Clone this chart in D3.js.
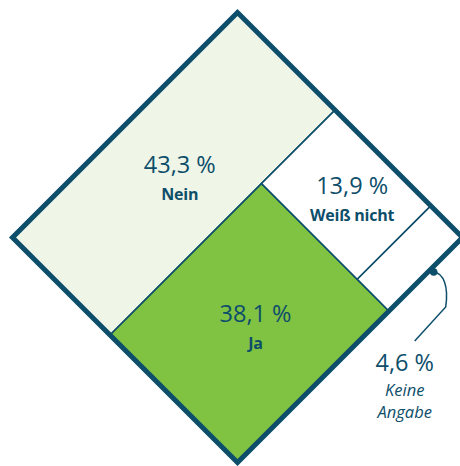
<!DOCTYPE html>
<html>
<head>
<meta charset="utf-8">
<script src="https://cdn.jsdelivr.net/npm/d3@7"></script>
<style>
  body { margin: 0; background: #fff; }
  svg { display: block; }
  text { font-family: 'Open Sans', sans-serif; fill: #0d4e6b; }
  .value { font-size: 23.5px; }
  .label { font-size: 16px; font-weight: 700; letter-spacing: -0.2px; }
  .note { font-size: 16.5px; font-style: italic; }
</style>
</head>
<body>
<div id="chart"></div>
<script>
/* global d3 */
const width = 460
const height = 466

const labels = ['Nein', 'Ja', 'Weiß nicht', 'Keine Angabe']
const values = [43.3, 38.1, 13.9, 4.6]
const fills = ['#eff5e7', '#80c242', '#ffffff', '#ffffff']

const ink = '#0d4e6b'
const cx = 237.5
const cy = 237.5
const halfDiag = 225
const side = halfDiag * Math.SQRT2
const border = 5

const de = d3.formatLocale({ decimal: ',', thousands: '.', grouping: [3], currency: ['', ' €'] })
const fmt = (v) => de.format('.1f')(v) + ' %'

// nest: first item vs. the rest, the rest again split the same way
function nest(i) {
  const leaf = { name: labels[i], value: values[i], fill: fills[i] }
  if (i === labels.length - 1) return leaf
  return { children: [leaf, nest(i + 1)] }
}

const root = d3.hierarchy(nest(0))
  .sum((d) => d.value || 0)

// alternate direction: even depth splits along y, odd depth along x
const tile = (node, x0, y0, x1, y1) =>
  (node.depth % 2 === 0 ? d3.treemapSlice : d3.treemapDice)(node, x0, y0, x1, y1)

d3.treemap()
  .size([side, side])
  .tile(tile)
  .round(false)(root)

const leaves = root.leaves()

// treemap coords -> screen (square turned by 45deg, left corner at (cx - halfDiag, cy))
const ox = cx - halfDiag
const oy = cy
function toScreen(u, v) {
  return [ox + (u + v) / Math.SQRT2, oy + (v - u) / Math.SQRT2]
}

const svg = d3.select('#chart')
  .append('svg')
  .attr('width', width)
  .attr('height', height)

const g = svg.append('g')
  .attr('transform', `translate(${ox}, ${oy}) rotate(-45)`)

g.selectAll('rect.cell')
  .data(leaves)
  .enter()
  .append('rect')
  .attr('class', 'cell')
  .attr('x', (d) => d.x0)
  .attr('y', (d) => d.y0)
  .attr('width', (d) => d.x1 - d.x0)
  .attr('height', (d) => d.y1 - d.y0)
  .attr('fill', (d) => d.data.fill)
  .attr('stroke', ink)
  .attr('stroke-width', 1.6)

g.append('rect')
  .attr('x', 0)
  .attr('y', 0)
  .attr('width', side)
  .attr('height', side)
  .attr('fill', 'none')
  .attr('stroke', ink)
  .attr('stroke-width', border)
  .attr('stroke-linejoin', 'miter')

// labels inside the big cells
const inside = leaves.slice(0, 3)
const lab = svg.append('g')
  .selectAll('g')
  .data(inside)
  .enter()
  .append('g')
  .attr('transform', (d) => {
    const p = toScreen((d.x0 + d.x1) / 2, (d.y0 + d.y1) / 2)
    return `translate(${p[0] + 6}, ${p[1]})`
  })

lab.append('text')
  .attr('class', 'value')
  .attr('text-anchor', 'middle')
  .attr('y', -1)
  .text((d) => fmt(d.data.value))

lab.append('text')
  .attr('class', 'label')
  .attr('text-anchor', 'middle')
  .attr('y', 26)
  .text((d) => d.data.name)

// small cell: callout outside
const small = leaves[3]
const anchor = toScreen(small.x0 + (small.x1 - small.x0) * 0.57, side + 4)
const ax = anchor[0]
const ay = anchor[1]

svg.append('path')
  .attr('d', `M${ax},${ay} C${ax + 10},${ay + 1} ${ax + 15},${ay + 15} ${ax + 12},${ay + 35} L${ax - 19},${ay + 69}`)
  .attr('fill', 'none')
  .attr('stroke', ink)
  .attr('stroke-width', 1.5)

svg.append('circle')
  .attr('cx', ax)
  .attr('cy', ay)
  .attr('r', 3.8)
  .attr('fill', ink)

const note = svg.append('g')
  .attr('transform', `translate(${ax - 29}, ${ay + 99})`)

note.append('text')
  .attr('class', 'value')
  .attr('text-anchor', 'middle')
  .text(fmt(small.data.value))

const noteWords = small.data.name.split(' ')
note.selectAll('text.note')
  .data(noteWords)
  .enter()
  .append('text')
  .attr('class', 'note')
  .attr('text-anchor', 'middle')
  .attr('y', (d, i) => 25 + i * 22.5)
  .text((d) => d)
</script>
</body>
</html>
